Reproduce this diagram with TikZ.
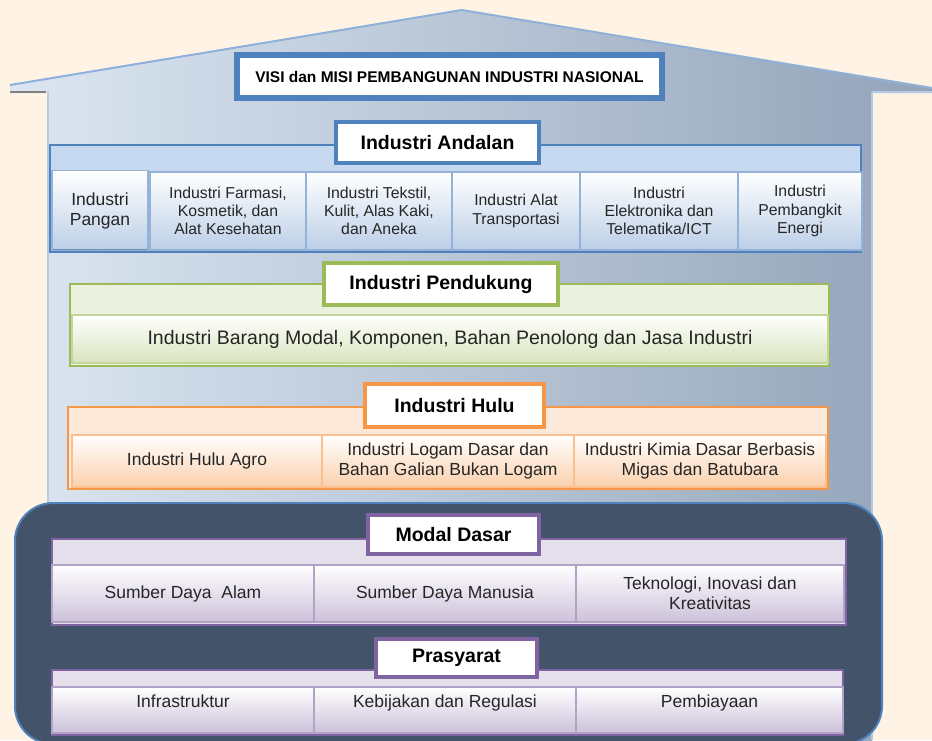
\documentclass[tikz,border=0pt]{standalone}
\usepackage{fontspec}
\setmainfont{Liberation Sans}
\definecolor{bgc}{HTML}{FEF3E5}
\definecolor{houseL}{HTML}{DCE6F2}
\definecolor{houseM}{HTML}{C3D0E0}
\definecolor{houseR}{HTML}{93A4B9}
\definecolor{roofc}{HTML}{8EB0D9}
\definecolor{darkc}{HTML}{435369}
\definecolor{blueD}{HTML}{4F81BD}
\definecolor{blueF}{HTML}{C6D9F1}
\definecolor{blueB}{HTML}{BCCFE7}
\definecolor{blueS}{HTML}{95B3D7}
\definecolor{blueSh}{HTML}{6E8CB3}
\definecolor{greenD}{HTML}{9BBB59}
\definecolor{greenF}{HTML}{EBF1DE}
\definecolor{greenB}{HTML}{D7E4BD}
\definecolor{greenS}{HTML}{C3D69B}
\definecolor{greenSh}{HTML}{A9BF86}
\definecolor{orangeD}{HTML}{F79646}
\definecolor{orangeF}{HTML}{FDE9D9}
\definecolor{orangeB}{HTML}{FBD0AD}
\definecolor{orangeS}{HTML}{FAC090}
\definecolor{orangeSh}{HTML}{E08A4E}
\definecolor{purpleD}{HTML}{8064A2}
\definecolor{purpleF}{HTML}{E5E0EC}
\definecolor{purpleB}{HTML}{CCC1DA}
\definecolor{purpleS}{HTML}{B3A2C7}
\definecolor{purpleSh}{HTML}{9180A8}
\definecolor{txt}{HTML}{262626}
\begin{document}
\begin{tikzpicture}[x=1pt,y=-1pt,
  band/.style={line width=2pt},
  titlebox/.style={fill=white, line width=4.5pt, text=black, inner sep=0pt,
    font=\bfseries\fontsize{19.5}{22}\selectfont},
  subbase/.style={top color=white, line width=1.2pt, align=center, inner sep=2pt, text=txt,
    path picture={\draw[line width=3pt,#1] (path picture bounding box.south west) -- (path picture bounding box.south east);}},
  subB/.style={subbase=blueSh, draw=blueS, bottom color=blueB, font=\fontsize{15.8}{18.3}\selectfont},
  subG/.style={subbase=greenSh, draw=greenS, bottom color=greenB, font=\fontsize{19.5}{22}\selectfont},
  subO/.style={subbase=orangeSh, draw=orangeS, bottom color=orangeB, font=\fontsize{17.5}{20}\selectfont},
  subP/.style={subbase=purpleSh, draw=purpleS, bottom color=purpleB, font=\fontsize{17.5}{20}\selectfont},
]
\useasboundingbox (0,0) rectangle (932,740);
\fill[bgc] (0,0) rectangle (932,740);
% house
\shade[left color=houseL, middle color=houseM, right color=houseR] (10,85) -- (462,10) -- (932,88) -- (932,93) -- (872,93) -- (872,745) -- (48,745) -- (48,93) -- (10,93) -- cycle;
\draw[roofc, line width=2pt] (10,85) -- (462,10) -- (932,88);
\draw[gray, line width=2.5pt] (10,92) -- (46,92);
\draw[blueS!70!white, line width=2pt] (48,92) -- (48,740);
\draw[blueS!70!white, line width=2pt] (872,92) -- (872,740) (872,92) -- (932,92);
% visi
\node[draw=blueD, line width=6pt, fill=white, minimum width=425pt, minimum height=43pt, inner sep=0pt] (visi) at (449.5,76.5) {};
\draw[blueD, line width=1.2pt] ([shift={(5.5pt,5.5pt)}]visi.south west) rectangle ([shift={(-5.5pt,-5.5pt)}]visi.north east);
\node[font=\bfseries\fontsize{15.5}{18}\selectfont] (visit) at (visi.center) {VISI dan MISI PEMBANGUNAN INDUSTRI NASIONAL};
% andalan
\node[band, draw=blueD, fill=blueF, minimum width=811pt, minimum height=107pt] (andB) at (455.5,198.5) {};
\node[subB, minimum width=96pt, minimum height=80pt, font=\fontsize{17.5}{20}\selectfont] (a1) at (100,210.5) {Industri\\Pangan};
\node[subB, minimum width=156pt, minimum height=78pt] (a2) at (228,211) {Industri Farmasi,\\Kosmetik, dan\\Alat Kesehatan};
\node[subB, minimum width=146pt, minimum height=78pt] (a3) at (379,211) {Industri Tekstil,\\Kulit, Alas Kaki,\\dan Aneka};
\node[subB, minimum width=128pt, minimum height=78pt] (a4) at (516,211) {Industri Alat\\Transportasi};
\node[subB, minimum width=158pt, minimum height=78pt] (a5) at (659,211) {Industri\\Elektronika dan\\Telematika/ICT};
\node[subB, minimum width=124pt, minimum height=78pt] (a6) at (800,211) {Industri\\Pembangkit\\Energi};
\node[titlebox, draw=blueD, minimum width=203pt, minimum height=41pt] (andT) at (437.5,142.5) {Industri Andalan};
% pendukung
\node[band, draw=greenD, fill=greenF, minimum width=759pt, minimum height=82pt] (penB) at (449.5,325) {};
\node[subG, minimum width=756pt, minimum height=48pt] (p1) at (450,339) {Industri Barang Modal, Komponen, Bahan Penolong dan Jasa Industri};
\node[titlebox, draw=greenD, minimum width=234pt, minimum height=42pt] (penT) at (441,284) {Industri Pendukung};
% hulu
\node[band, draw=orangeD, fill=orangeF, minimum width=760pt, minimum height=82pt] (hulB) at (448,448) {};
\node[subO, minimum width=250pt, minimum height=52pt] (h1) at (197,461) {Industri Hulu Agro};
\node[subO, minimum width=252pt, minimum height=52pt] (h2) at (448,461) {Industri Logam Dasar dan\\Bahan Galian Bukan Logam};
\node[subO, minimum width=252pt, minimum height=52pt] (h3) at (700,461) {Industri Kimia Dasar Berbasis\\Migas dan Batubara};
\node[titlebox, draw=orangeD, minimum width=179pt, minimum height=43pt] (hulT) at (454.5,405.5) {Industri Hulu};
% dark base
\draw[fill=darkc, draw=blueD, line width=2pt, rounded corners=38pt] (15,503) rectangle (882,744);
% modal dasar
\node[band, draw=purpleD, fill=purpleF, minimum width=794pt, minimum height=86pt] (modB) at (449,582) {};
\node[subP, minimum width=262pt, minimum height=57pt] (m1) at (183,593.5) {Sumber Daya\ \ Alam};
\node[subP, minimum width=262pt, minimum height=57pt] (m2) at (445,593.5) {Sumber Daya Manusia};
\node[subP, minimum width=268pt, minimum height=57pt] (m3) at (710,593.5) {Teknologi, Inovasi dan\\Kreativitas};
\node[titlebox, draw=purpleD, minimum width=171pt, minimum height=39pt] (modT) at (453.5,534.5) {Modal Dasar};
% prasyarat
\node[band, draw=purpleD, fill=purpleF, minimum width=791pt, minimum height=65pt] (praB) at (447.5,702.5) {};
\node[subP, minimum width=262pt, minimum height=46pt, text depth=18pt] (r1) at (183,710) {Infrastruktur};
\node[subP, minimum width=262pt, minimum height=46pt, text depth=18pt] (r2) at (445,710) {Kebijakan dan Regulasi};
\node[subP, minimum width=267pt, minimum height=46pt, text depth=18pt] (r3) at (709.5,710) {Pembiayaan};
\node[titlebox, draw=purpleD, minimum width=161pt, minimum height=38pt] (praT) at (456.5,658) {Prasyarat};
\end{tikzpicture}
\end{document}
